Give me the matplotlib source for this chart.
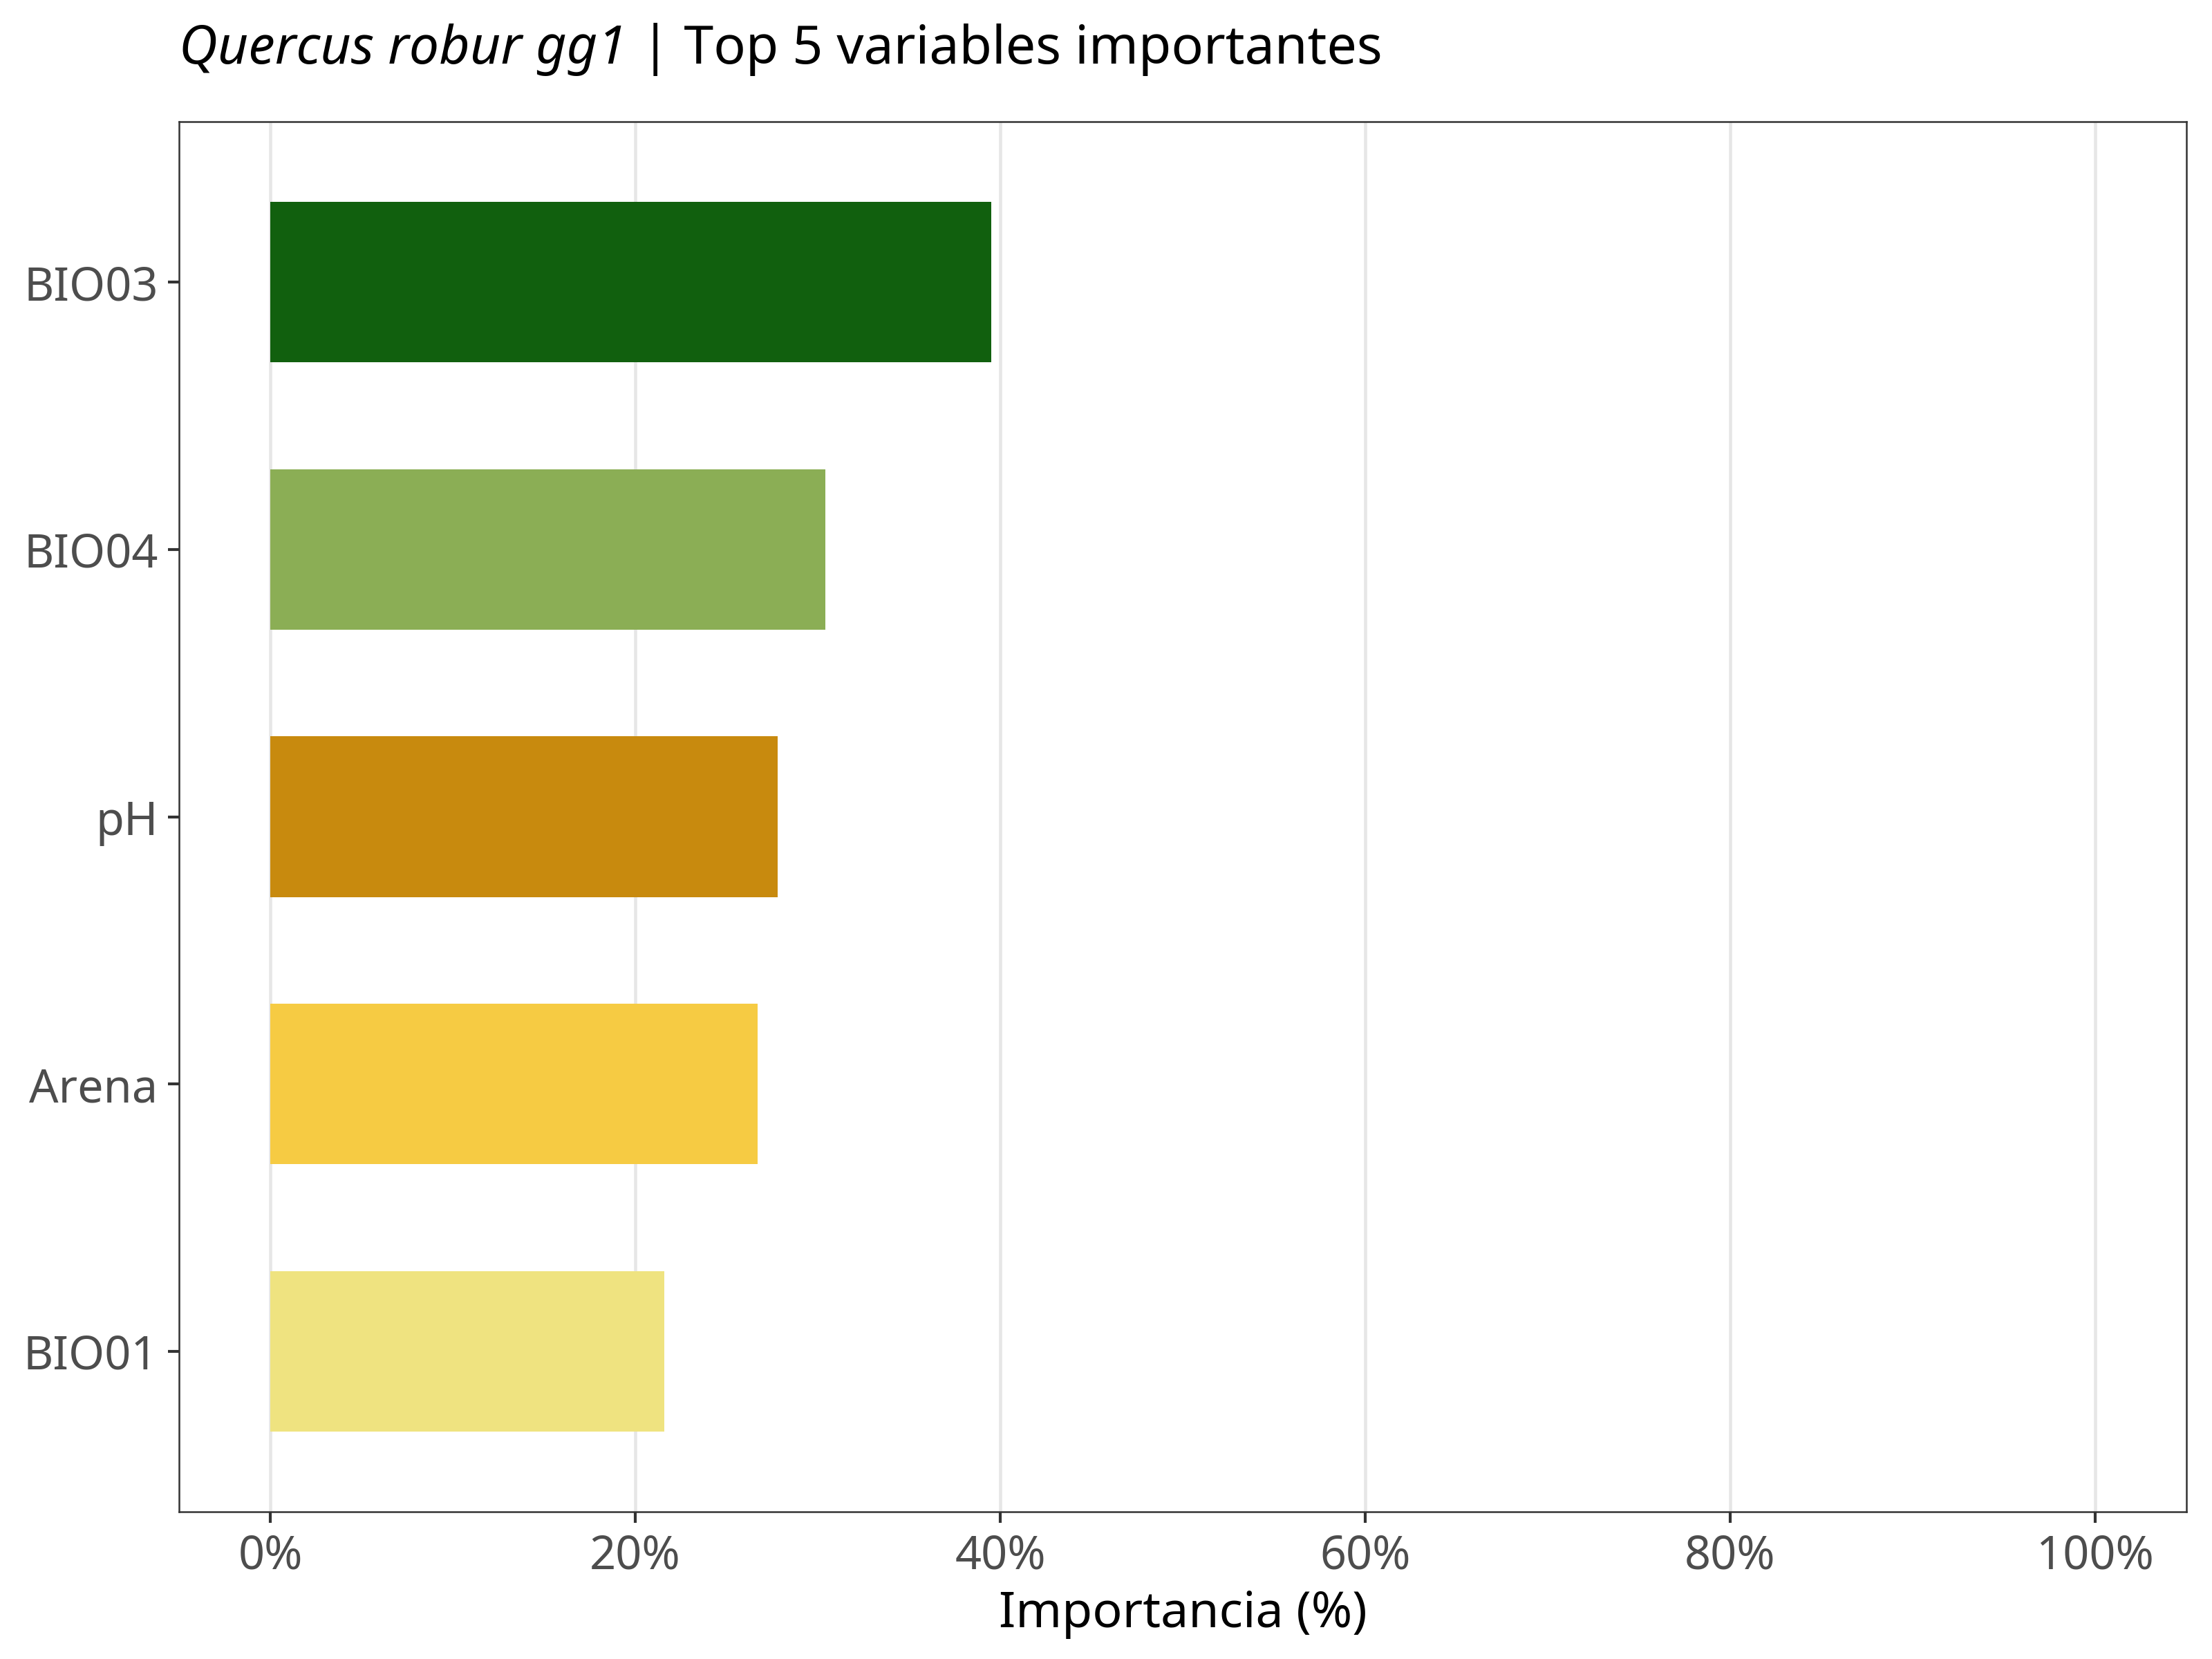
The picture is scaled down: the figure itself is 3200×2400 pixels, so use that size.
import matplotlib
matplotlib.use("Agg")
import matplotlib.pyplot as plt
from matplotlib.ticker import FuncFormatter

plt.rcParams["font.family"] = ["Noto Sans", "DejaVu Sans"]

# ==============================
# Data
# ==============================
variables = ["BIO03", "BIO04", "pH", "Arena", "BIO01"]
importance = [39.5, 30.4, 27.8, 26.7, 21.6]
bar_colors = ["#11600E", "#8BAE55", "#C88A0E", "#F6CB43", "#EFE380"]
x_ticks = [0, 20, 40, 60, 80, 100]

title_italic = "Quercus robur gg1"
title_rest = " | Top 5 variables importantes"
x_label = "Importancia (%)"

# ==============================
# Figure
# ==============================
fig = plt.figure(figsize=(3200 / 300, 2400 / 300), dpi=300)
ax = fig.add_axes([259 / 3200, 1 - 2187 / 2400, (3163 - 259) / 3200, (2187 - 176) / 2400])

# top variable at the top
ypos = list(range(len(variables)))[::-1]
ax.barh(ypos, importance, height=0.6, color=bar_colors, zorder=2)

ax.set_xlim(-5, 105)
ax.set_ylim(-0.6, len(variables) - 1 + 0.6)
ax.set_yticks(ypos)
ax.set_yticklabels(variables)
ax.set_xticks(x_ticks)
ax.xaxis.set_major_formatter(FuncFormatter(lambda v, p: f"{v:.0f}%"))

# grid only on x
ax.grid(axis="x", color="#E6E6E6", linewidth=1.1, zorder=0)
ax.grid(axis="y", visible=False)
ax.set_axisbelow(True)

for s in ax.spines.values():
    s.set_color("#333333")
    s.set_linewidth(0.6)

ax.tick_params(axis="both", colors="#333333", length=3.8, width=1.0,
               labelsize=16, labelcolor="#4D4D4D", pad=3.5)

ax.set_xlabel(x_label, fontsize=17.2, color="black", labelpad=3.5)

# title: italic species name + regular rest
fig.canvas.draw()
renderer = fig.canvas.get_renderer()
t1 = fig.text(259 / 3200, 1 - 92 / 2400, title_italic, fontsize=18.5,
              style="italic", color="black", ha="left", va="baseline")
bb = t1.get_window_extent(renderer=renderer)
x_next = bb.x1 / fig.bbox.width
fig.text(x_next, 1 - 92 / 2400, title_rest, fontsize=18.5,
         color="black", ha="left", va="baseline")

fig.savefig("out.png", dpi=300, facecolor="white")
